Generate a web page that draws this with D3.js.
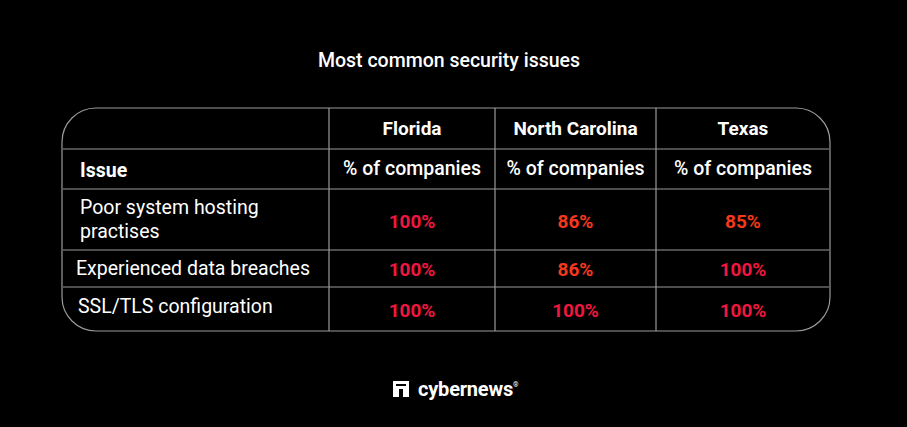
<!DOCTYPE html><html><head><meta charset="utf-8">
<script src="https://cdn.jsdelivr.net/npm/d3@7"></script>
<style>body{margin:0;background:#000}</style></head><body>
<script>
const title = "Most common security issues";
const states = ["Florida","North Carolina","Texas"];
const issues = ["Poor system hosting|practises","Experienced data breaches","SSL/TLS configuration"];
const florida = [100,100,100];
const northCarolina = [86,86,100];
const texas = [85,100,100];
const series = [florida,northCarolina,texas];

const W=907,H=427, FS=19.5;
const svg=d3.select("body").append("svg").attr("width",W).attr("height",H).style("background","#000")
 .style("font-family","Roboto, sans-serif");
svg.append("text").attr("x",449).attr("y",67).attr("text-anchor","middle").attr("fill","#fff")
 .attr("font-size",FS).attr("font-weight",500).text(title);

const L=62,R=830,T=108,B=331;
const colX=[L,329,495,656,R];
const rowY=[T,149,189,250,287,B];
svg.append("rect").attr("x",L).attr("y",T).attr("width",R-L).attr("height",B-T).attr("rx",34)
 .attr("fill","none").attr("stroke","#9a9a9a").attr("stroke-width",1.2);
const g=svg.append("g").attr("stroke","#9a9a9a").attr("stroke-width",1.2);
colX.slice(1,4).forEach(x=>g.append("line").attr("x1",x).attr("x2",x).attr("y1",T).attr("y2",B));
rowY.slice(1,5).forEach(y=>g.append("line").attr("x1",L+1).attr("x2",R-1).attr("y1",y).attr("y2",y));

const cx=i=>(colX[i+1]+colX[i+2])/2;
states.forEach((s,i)=>svg.append("text").attr("x",cx(i)).attr("y",135).attr("text-anchor","middle")
 .attr("fill","#fff").attr("font-size",19).attr("font-weight",700).text(s));
states.forEach((s,i)=>svg.append("text").attr("x",cx(i)).attr("y",175).attr("text-anchor","middle")
 .attr("fill","#fff").attr("font-size",FS).attr("font-weight",500).text("% of companies"));
svg.append("text").attr("x",80).attr("y",177).attr("fill","#fff").attr("font-size",FS).attr("font-weight",700).text("Issue");

const rowTextY=[[214,238],[275],[313]];
const rowMid=[222,270,311];
const xIss=[80,76,78];
issues.forEach((t,r)=>{
  t.split("|").forEach((ln,k)=>svg.append("text").attr("x",xIss[r]).attr("y",rowTextY[r][k])
    .attr("fill","#fff").attr("font-size",FS).text(ln));
  series.forEach((sv,c)=>{
    const v=sv[r];
    svg.append("text").attr("x",cx(c)).attr("y",rowMid[r]+6).attr("text-anchor","middle")
     .attr("fill",v===100?"#f0173f":"#f5381c").attr("font-size",19).attr("font-weight",700).text(v+"%");
  });
});

// logo
const lg=svg.append("g").attr("transform","translate(393,381)");
lg.append("path").attr("d","M0 0H16V16H10V8H6V16H0Z M3 3V13H3.01V5H13V3Z").attr("fill","#fff").attr("fill-rule","evenodd");
svg.append("text").attr("x",418).attr("y",396).attr("fill","#fff").attr("font-size",20).attr("font-weight",700)
 .attr("letter-spacing",-0.2).text("cybernews");
svg.append("text").attr("x",513).attr("y",387).attr("fill","#fff").attr("font-size",7).text("®");
</script></body></html>
